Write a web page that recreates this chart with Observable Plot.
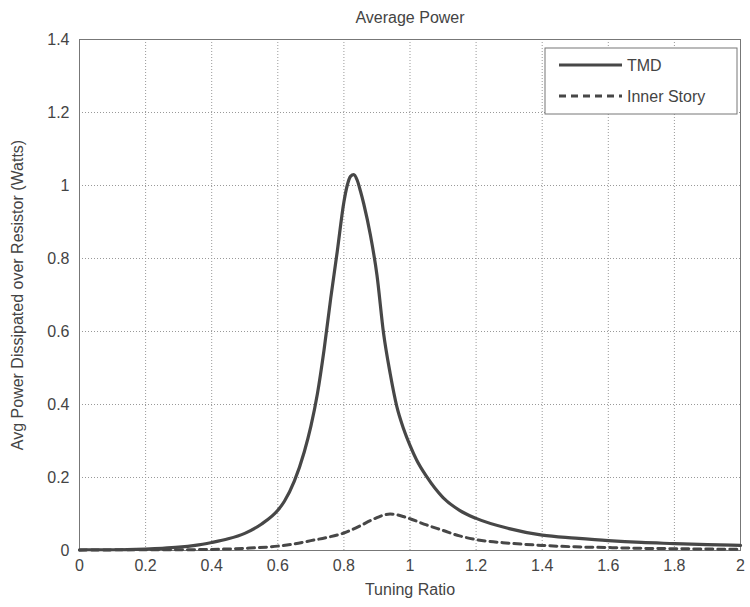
<!DOCTYPE html>
<html><head><meta charset="utf-8">
<script src="https://cdn.jsdelivr.net/npm/d3@7"></script>
<script src="https://cdn.jsdelivr.net/npm/@observablehq/plot@0.6"></script>
<style>body{margin:0;background:#fff}</style>
</head><body><div id="chart"></div>
<script>
const titleText = "Average Power";
const xLabel = "Tuning Ratio";
const yLabel = "Avg Power Dissipated over Resistor (Watts)";
const seriesNames = ["TMD", "Inner Story"];
const xTicks = [0, 0.2, 0.4, 0.6, 0.8, 1, 1.2, 1.4, 1.6, 1.8, 2];
const yTicks = [0, 0.2, 0.4, 0.6, 0.8, 1, 1.2, 1.4];

const tuningTMD = [0, 0.1, 0.2, 0.25, 0.3, 0.35, 0.4, 0.45, 0.5, 0.55, 0.6, 0.62, 0.65, 0.68, 0.7, 0.72, 0.74, 0.76, 0.78, 0.8, 0.81, 0.82, 0.83, 0.84, 0.85, 0.86, 0.88, 0.9, 0.92, 0.94, 0.96, 0.98, 1.0, 1.02, 1.05, 1.1, 1.15, 1.2, 1.3, 1.4, 1.5, 1.6, 1.7, 1.8, 1.9, 2.0];
const powerTMD = [0.002, 0.002, 0.004, 0.006, 0.009, 0.014, 0.022, 0.032, 0.047, 0.072, 0.11, 0.135, 0.19, 0.27, 0.34, 0.43, 0.55, 0.69, 0.82, 0.955, 1.0, 1.025, 1.03, 1.015, 0.985, 0.95, 0.865, 0.755, 0.595, 0.485, 0.395, 0.335, 0.288, 0.248, 0.203, 0.145, 0.11, 0.088, 0.06, 0.042, 0.034, 0.027, 0.022, 0.019, 0.016, 0.014];

const tuningInner = [0, 0.2, 0.3, 0.4, 0.5, 0.6, 0.65, 0.7, 0.75, 0.8, 0.85, 0.88, 0.9, 0.92, 0.94, 0.96, 0.98, 1.0, 1.05, 1.1, 1.15, 1.2, 1.3, 1.4, 1.5, 1.6, 1.7, 1.8, 1.9, 2.0];
const powerInner = [0.001, 0.002, 0.002, 0.003, 0.006, 0.012, 0.018, 0.027, 0.036, 0.048, 0.068, 0.082, 0.09, 0.097, 0.1, 0.098, 0.093, 0.087, 0.07, 0.055, 0.04, 0.03, 0.02, 0.014, 0.01, 0.008, 0.006, 0.005, 0.004, 0.003];

const tmdData = tuningTMD.map((x, i) => ({x, y: powerTMD[i]}));
const innerData = tuningInner.map((x, i) => ({x, y: powerInner[i]}));

const lineColor = "#474747";
const textColor = "#444";
const font = "'Liberation Sans', Arial, sans-serif";
const fmt = d => String(d);

const chart = Plot.plot({
  width: 750, height: 607,
  marginLeft: 79, marginRight: 10, marginTop: 39, marginBottom: 57,
  style: {fontFamily: font, fontSize: "16px", color: textColor, background: "#fff"},
  x: {domain: [0, 2]},
  y: {domain: [0, 1.4]},
  marks: [
    Plot.gridX(xTicks, {stroke: "#999", strokeOpacity: 1, strokeDasharray: "1,2"}),
    Plot.gridY(yTicks, {stroke: "#999", strokeOpacity: 1, strokeDasharray: "1,2"}),
    Plot.frame({stroke: "#777"}),
    Plot.axisX({ticks: xTicks, tickFormat: fmt, tickSize: 0, tickPadding: 9, label: xLabel, labelAnchor: "center", labelArrow: "none", labelOffset: 44, fontSize: 16}),
    Plot.axisY({ticks: yTicks, tickFormat: fmt, tickSize: 0, tickPadding: 10, label: yLabel, labelAnchor: "center", labelArrow: "none", labelOffset: 68, fontSize: 16}),
    Plot.line(innerData, {x: "x", y: "y", stroke: lineColor, strokeWidth: 3, strokeDasharray: "7,5", curve: "monotone-x"}),
    Plot.line(tmdData, {x: "x", y: "y", stroke: lineColor, strokeWidth: 3.2, curve: "monotone-x"}),
    Plot.text([titleText], {frameAnchor: "top", dy: -28, fontSize: 16, fill: textColor})
  ]
});
document.getElementById("chart").appendChild(chart);

// legend in upper-right corner of the frame
const svg = d3.select(chart);
const W = 750, mr = 10, mt = 39;
const bw = 192, bh = 66;
const bx = W - mr - bw - 3, by = mt + 9;
const lg = svg.append("g");
lg.append("rect").attr("x", bx).attr("y", by).attr("width", bw).attr("height", bh)
  .attr("fill", "#fff").attr("stroke", "#777");
seriesNames.forEach((name, i) => {
  const yy = by + 17 + i * 31;
  lg.append("line").attr("x1", bx + 14).attr("x2", bx + 77).attr("y1", yy).attr("y2", yy)
    .attr("stroke", lineColor).attr("stroke-width", 3)
    .attr("stroke-dasharray", i === 1 ? "7,5" : null);
  lg.append("text").attr("x", bx + 82).attr("y", yy).attr("dy", "0.35em")
    .attr("text-anchor", "start")
    .attr("fill", textColor).attr("font-size", 16).attr("font-family", font)
    .text(name);
});
</script>
</body></html>
